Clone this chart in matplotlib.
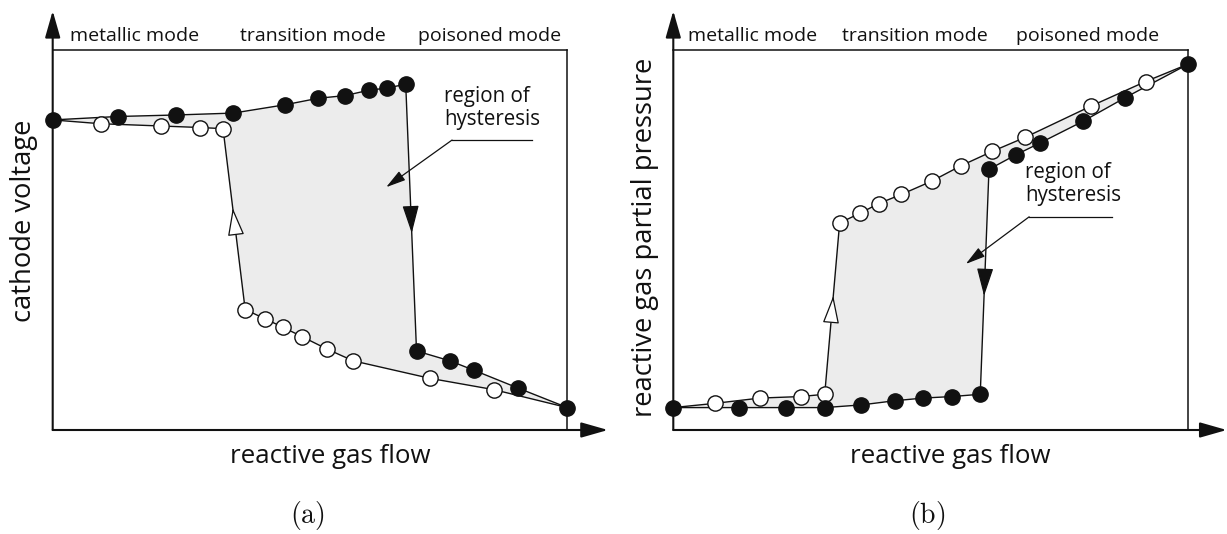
import matplotlib
matplotlib.use("Agg")
import matplotlib.pyplot as plt
import numpy as np

plt.rcParams["font.family"] = ["Open Sans", "DejaVu Sans"]
plt.rcParams["mathtext.fontset"] = "cm"

# ---- (a) cathode voltage vs reactive gas flow (normalised units) ----
a_inc_x = [0.0, 0.126, 0.240, 0.351, 0.452, 0.516, 0.568, 0.614, 0.650, 0.686,
           0.707, 0.772, 0.819, 0.905, 1.0]
a_inc_y = [0.816, 0.825, 0.829, 0.834, 0.856, 0.873, 0.880, 0.894, 0.900, 0.910,
           0.208, 0.182, 0.157, 0.110, 0.059]
a_dec_x = [0.0, 0.093, 0.210, 0.287, 0.331, 0.374, 0.412, 0.448, 0.484, 0.533,
           0.584, 0.733, 0.858, 1.0]
a_dec_y = [0.816, 0.806, 0.800, 0.796, 0.793, 0.317, 0.293, 0.270, 0.246, 0.213,
           0.182, 0.136, 0.106, 0.059]

# ---- (b) reactive gas partial pressure vs reactive gas flow ----
b_inc_x = [0.0, 0.128, 0.218, 0.294, 0.365, 0.430, 0.485, 0.541, 0.596,
           0.613, 0.665, 0.713, 0.795, 0.878, 1.0]
b_inc_y = [0.059, 0.059, 0.059, 0.059, 0.066, 0.077, 0.084, 0.088, 0.094,
           0.686, 0.724, 0.756, 0.812, 0.875, 0.963]
b_dec_x = [0.0, 0.080, 0.168, 0.247, 0.294, 0.323, 0.362, 0.399, 0.443, 0.502,
           0.558, 0.619, 0.683, 0.812, 0.917, 1.0]
b_dec_y = [0.059, 0.070, 0.084, 0.088, 0.094, 0.545, 0.570, 0.596, 0.620, 0.655,
           0.695, 0.733, 0.770, 0.853, 0.917, 0.963]

mode_labels = ["metallic mode", "transition mode", "poisoned mode"]
x_label = "reactive gas flow"
y_labels = ["cathode voltage", "reactive gas partial pressure"]
panel_tags = [r"$\mathrm{(a)}$", r"$\mathrm{(b)}$"]

W, H = 1227, 534
fig = plt.figure(figsize=(W / 100, H / 100), dpi=100)

INK = "#111111"
FILL = "#ececec"


def px(x, y):
    """pixel position (from top-left) -> figure fraction"""
    return x / W, 1 - y / H


def x_on_segment(xs, ys, i, y):
    x0, y0, x1, y1 = xs[i], ys[i], xs[i + 1], ys[i + 1]
    return x0 + (y - y0) * (x1 - x0) / (y1 - y0)


def panel(rect, fx, fy, ox, oy, jump_f, jump_o, arrows_y, note, xarrow_end):
    ax = fig.add_axes(rect)
    ax.set_xlim(0, 1)
    ax.set_ylim(0, 1)
    ax.axis("off")

    # hysteresis loop area
    poly_x = list(fx) + list(ox[::-1])
    poly_y = list(fy) + list(oy[::-1])
    ax.fill(poly_x, poly_y, color=FILL, lw=0, zorder=1)

    # frame: top and right edges
    ax.plot([0, 1], [1, 1], color=INK, lw=1.1, zorder=2, clip_on=False)
    ax.plot([1, 1], [0, 1], color=INK, lw=1.1, zorder=2, clip_on=False)

    # axes with arrow heads
    arr = dict(arrowstyle="-|>,head_length=1.65,head_width=0.47",
               color=INK, lw=1.5, shrinkA=0, shrinkB=0)
    ax.annotate("", xy=(0, 1.103), xytext=(0, 0), xycoords="axes fraction",
                arrowprops=arr, zorder=6)
    ax.annotate("", xy=(xarrow_end, 0), xytext=(0, 0), xycoords="axes fraction",
                arrowprops=arr, zorder=6)

    # branch lines
    ax.plot(fx, fy, color=INK, lw=1.0, zorder=3, clip_on=False)
    ax.plot(ox, oy, color=INK, lw=1.0, zorder=3, clip_on=False)

    # direction arrow heads on the jumps
    (tf, bf), (to, bo) = arrows_y
    hd = "-|>,head_length=1.75,head_width=0.52"
    ax.annotate("", xy=(x_on_segment(fx, fy, jump_f, tf), tf),
                xytext=(x_on_segment(fx, fy, jump_f, bf), bf),
                arrowprops=dict(arrowstyle=hd, fc=INK, ec=INK, lw=0.9,
                                shrinkA=0, shrinkB=0), zorder=4)
    ax.annotate("", xy=(x_on_segment(ox, oy, jump_o, to), to),
                xytext=(x_on_segment(ox, oy, jump_o, bo), bo),
                arrowprops=dict(arrowstyle=hd, fc="white", ec=INK, lw=0.9,
                                shrinkA=0, shrinkB=0), zorder=4)

    # markers
    ax.plot(ox[1:-1], oy[1:-1], ls="none", marker="o", ms=11, mfc="white",
            mec=INK, mew=1.0, zorder=5, clip_on=False)
    ax.plot(fx, fy, ls="none", marker="o", ms=11, mfc=INK, mec=INK,
            mew=1.0, zorder=5, clip_on=False)

    # "region of hysteresis" callout
    (tx, ty), (ux0, ux1, uy), tip = note
    ax.text(tx, ty, "region of\nhysteresis", ha="left", va="top", fontsize=14.8,
            color=INK, linespacing=1.15, zorder=6)
    ax.plot([ux0, ux1], [uy, uy], color=INK, lw=0.9, zorder=6)
    ax.annotate("", xy=tip, xytext=(ux0, uy),
                arrowprops=dict(arrowstyle="-|>,head_length=1.2,head_width=0.33",
                                color=INK, lw=0.9, shrinkA=0, shrinkB=0), zorder=6)
    return ax


# panel (a)
l, b = px(52.7, 430)
panel([l, b, 514.6 / W, 380 / H], a_inc_x, a_inc_y, a_dec_x, a_dec_y,
      9, 4, ((0.518, 0.584), (0.584, 0.518)),
      ((0.761, 0.905), (0.776, 0.932, 0.763), (0.648, 0.639)), 1.079)

# panel (b)
l, b = px(673.3, 430)
panel([l, b, 515 / W, 380 / H], b_inc_x, b_inc_y, b_dec_x, b_dec_y,
      8, 4, ((0.353, 0.418), (0.353, 0.292)),
      ((0.683, 0.705), (0.691, 0.852, 0.561), (0.568, 0.437)), 1.0746)

# mode headers
for cx, lab in zip([135, 313, 490], mode_labels):
    fig.text(*px(cx, 41), lab, ha="center", va="baseline", fontsize=14, color=INK)
for cx, lab in zip([753, 915, 1088], mode_labels):
    fig.text(*px(cx, 41), lab, ha="center", va="baseline", fontsize=14, color=INK)

# axis titles
fig.text(*px(330, 463), x_label, ha="center", va="baseline", fontsize=18.6, color=INK)
fig.text(*px(950, 463), x_label, ha="center", va="baseline", fontsize=18.6, color=INK)
fig.text(*px(24, 221), y_labels[0], ha="center", va="center", rotation=90,
         fontsize=19.7, color=INK)
fig.text(*px(644.7, 237.5), y_labels[1], ha="center", va="center", rotation=90,
         fontsize=19.7, color=INK)

# panel tags
fig.text(*px(307, 516), panel_tags[0], ha="center", va="center", fontsize=20, color=INK)
fig.text(*px(927, 516), panel_tags[1], ha="center", va="center", fontsize=20, color=INK)

fig.savefig("out.png", dpi=100)
